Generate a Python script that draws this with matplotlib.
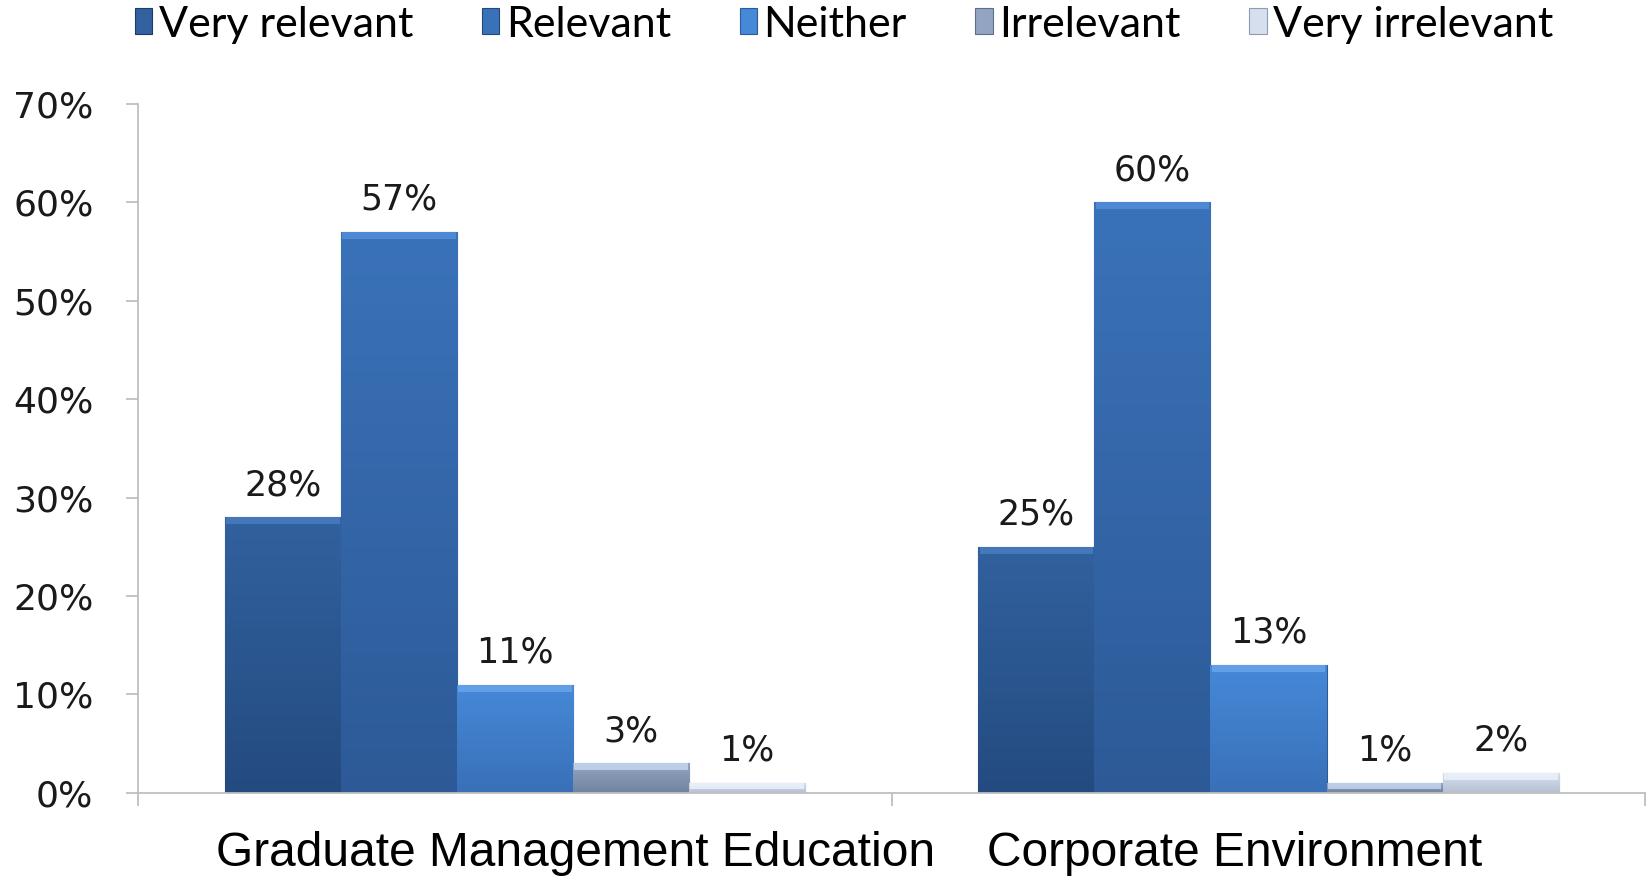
import numpy as np
import matplotlib.pyplot as plt
from matplotlib.patches import Patch, Rectangle
from matplotlib.colors import LinearSegmentedColormap

groups = ["Graduate Management Education", "Corporate Environment"]
responses = ["Very relevant", "Relevant", "Neither", "Irrelevant", "Very irrelevant"]
gme_values = [0.28, 0.57, 0.11, 0.03, 0.01]
corp_values = [0.25, 0.60, 0.13, 0.01, 0.02]
yticks = [0.0, 0.1, 0.2, 0.3, 0.4, 0.5, 0.6, 0.7]

# gradient colours (bottom -> top) and top highlight per response
bottom_colors = ["#244B80", "#2D5A97", "#3970B8", "#71849F", "#B5C0D3"]
top_colors = ["#31619E", "#3A72B9", "#4689D8", "#93A4C2", "#D6DFEE"]
highlight_colors = ["#4A7FC0", "#5490DA", "#6AA6EC", "#C8D9F2", "#EEF3FB"]
edge_colors = ["#1D3D69", "#22477A", "#2C5A96", "#5B6E8E", "#8F9BB3"]

tick_gray = "#BFBFBF"

fig = plt.figure(figsize=(16.52, 8.81), dpi=100)
ax = fig.add_axes([0.0835, 0.100, 0.9125, 0.782])

x = np.arange(len(groups))
width = 0.154

for i, resp in enumerate(responses):
    vals = [gme_values[i], corp_values[i]]
    bars = ax.bar(x + (i - 2) * width, vals, width, color=bottom_colors[i],
                  edgecolor=edge_colors[i], linewidth=0.8, zorder=2)
    cmap = LinearSegmentedColormap.from_list(f"g{i}", [bottom_colors[i], top_colors[i]])
    for bar, v in zip(bars, vals):
        x0, w, h = bar.get_x(), bar.get_width(), bar.get_height()
        grad = np.linspace(0, 1, 64).reshape(-1, 1)
        im = ax.imshow(grad, extent=[x0, x0 + w, 0, h], origin="lower",
                       aspect="auto", cmap=cmap, zorder=2.2)
        im.set_clip_path(bar)
        # bevel highlight on top
        hh = min(h * 0.6, 0.007)
        ax.add_patch(Rectangle((x0 + w * 0.01, h - hh), w * 0.98, hh,
                               facecolor=highlight_colors[i], edgecolor="none",
                               alpha=0.8, zorder=2.4))
        ax.annotate(f"{v * 100:.0f}%", (x0 + w / 2, h), xytext=(0, 11),
                    textcoords="offset points", ha="center", va="bottom",
                    fontsize=25, family="DejaVu Sans", color="#1A1A1A")

ax.set_xlim(-0.5, 1.5)
ax.set_ylim(0, 0.70)

ax.set_yticks(yticks)
ax.set_yticklabels([f"{int(round(t * 100))}%" for t in yticks])
ax.tick_params(axis="y", length=9, width=1.3, color=tick_gray, pad=23,
               labelsize=26, labelcolor="#1A1A1A")
for lab in ax.get_yticklabels():
    lab.set_family("DejaVu Sans")

ax.set_xticks([-0.5, 0.5, 1.5])
ax.set_xticklabels(["", "", ""])
ax.tick_params(axis="x", length=9, width=1.3, color=tick_gray)

label_shift = [0.08, -0.045]
for xi, name, dx in zip(x, groups, label_shift):
    ax.text(xi + dx, -0.055, name, transform=ax.get_xaxis_transform(),
            ha="center", va="top", fontsize=34.5, family="Liberation Sans",
            color="#000000")

for side in ["top", "right"]:
    ax.spines[side].set_visible(False)
for side in ["left", "bottom"]:
    ax.spines[side].set_color(tick_gray)
    ax.spines[side].set_linewidth(1.3)

handles = [Patch(facecolor=top_colors[i], edgecolor=edge_colors[i], linewidth=0.8)
           for i in range(len(responses))]
fig.legend(handles, responses, loc="center", bbox_to_anchor=(0.511, 0.972),
           ncol=5, frameon=False, prop={"family": "Lato", "size": 31},
           handlelength=0.4, handleheight=0.55, handletextpad=0.15,
           columnspacing=1.6)

fig.savefig("out.png", dpi=100)
